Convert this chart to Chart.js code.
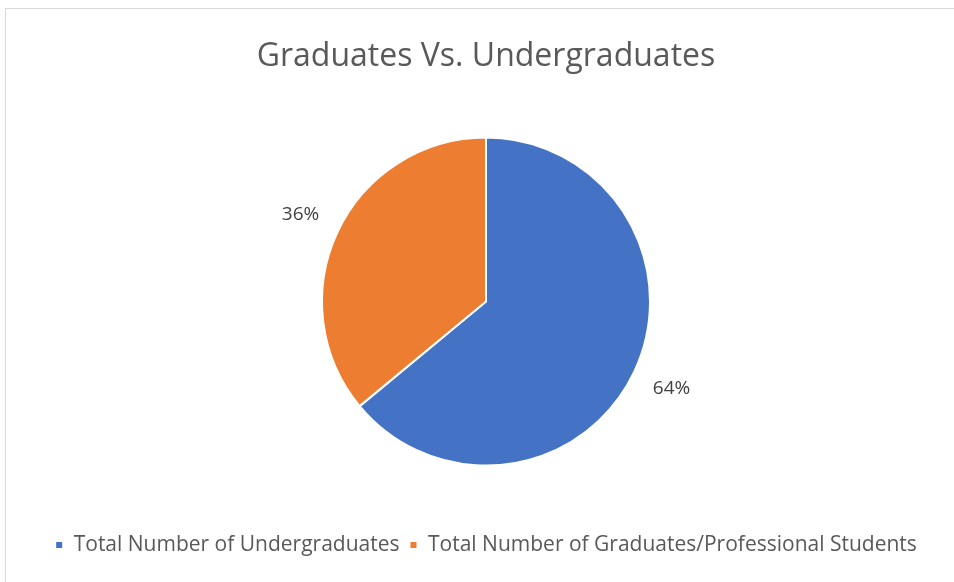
<!DOCTYPE html>
<html lang="en">
<head>
    <meta charset="UTF-8">
    <title>Graduates Vs. Undergraduates</title>
    <script src="https://cdn.jsdelivr.net/npm/chart.js"></script>
    <style>
        html, body { margin: 0; padding: 0; background: #fff; }
        .frame {
            position: absolute; left: 5px; top: 8px; width: 1000px; height: 700px;
            border-left: 1px solid #d9d9d9; border-top: 1px solid #d9d9d9;
        }
        .wrap { position: absolute; left: 0; top: 0; width: 954px; height: 582px; }
    </style>
</head>
<body>
<div class="frame"></div>
<div class="wrap"><canvas id="pieChart"></canvas></div>

<script>
    // data
    const categories = ['Total Number of Undergraduates', 'Total Number of Graduates/Professional Students'];
    const shares = [64, 36];
    const colors = ['#4472C4', '#ED7D31'];

    Chart.defaults.font.family = "'Open Sans', Lato, sans-serif";
    Chart.defaults.color = '#595959';

    // percentage labels outside each slice
    const outsideLabels = {
        id: 'outsideLabels',
        afterDatasetsDraw(chart) {
            const ctx = chart.ctx;
            const meta = chart.getDatasetMeta(0);
            const total = shares.reduce((a, b) => a + b, 0);
            ctx.save();
            ctx.font = "19px 'Open Sans', Lato, sans-serif";
            ctx.fillStyle = '#404040';
            ctx.textAlign = 'center';
            ctx.textBaseline = 'middle';
            meta.data.forEach((arc, i) => {
                const p = arc.getProps(['x', 'y', 'startAngle', 'endAngle', 'outerRadius'], true);
                const mid = (p.startAngle + p.endAngle) / 2;
                const d = p.outerRadius + 41;
                const pct = Math.round(shares[i] / total * 100) + '%';
                ctx.fillText(pct, p.x + Math.cos(mid) * d, p.y + Math.sin(mid) * d);
            });
            ctx.restore();
        }
    };

    new Chart(document.getElementById('pieChart'), {
        type: 'pie',
        data: {
            labels: categories,
            datasets: [{
                data: shares,
                backgroundColor: colors,
                borderColor: '#ffffff',
                borderWidth: 2,
                radius: 164
            }]
        },
        options: {
            responsive: true,
            maintainAspectRatio: false,
            animation: false,
            layout: { padding: { left: 18, right: 0, top: 0, bottom: 16.5 } },
            plugins: {
                title: {
                    display: true,
                    text: 'Graduates Vs. Undergraduates',
                    color: '#595959',
                    font: { size: 32, weight: 'normal' },
                    padding: { top: 38, bottom: 2.3 }
                },
                legend: {
                    position: 'bottom',
                    labels: {
                        boxWidth: 8,
                        boxHeight: 8,
                        color: '#595959',
                        font: { size: 21 },
                        padding: 10
                    }
                },
                tooltip: { enabled: false }
            }
        },
        plugins: [outsideLabels]
    });
</script>
</body>
</html>
